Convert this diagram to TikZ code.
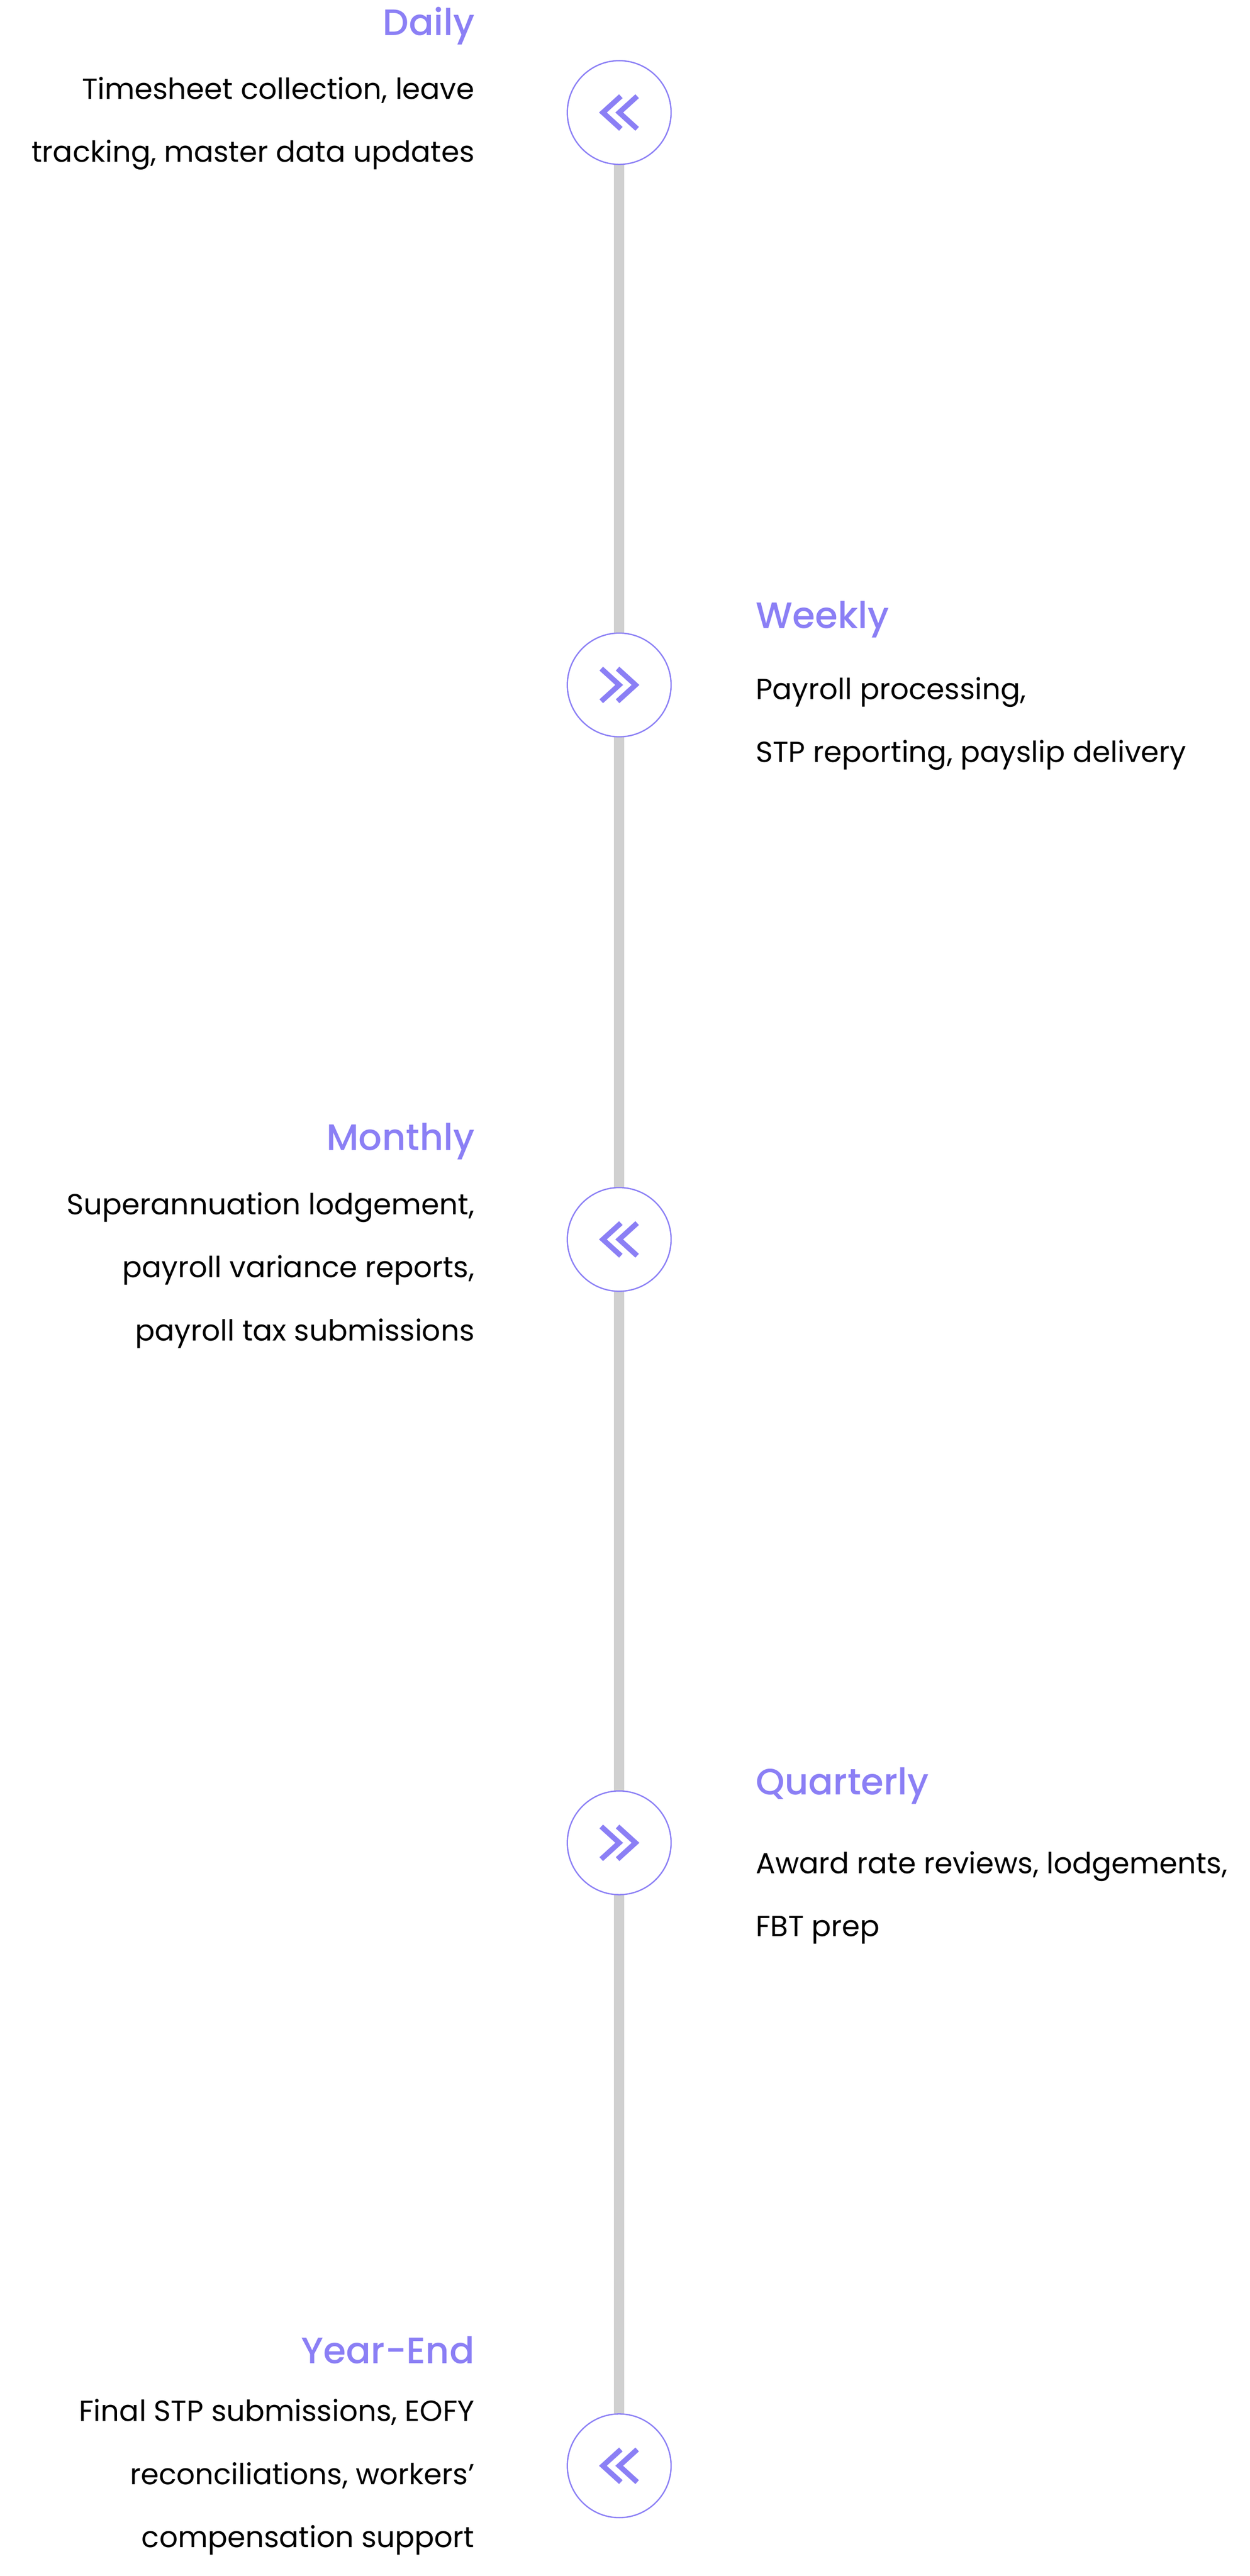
\documentclass[tikz,border=0pt]{standalone}
\usepackage{fontspec}
\setmainfont{Poppins}
\newfontfamily\headf{Poppins Medium}
\definecolor{pur}{HTML}{8B7FF5}
\definecolor{lgray}{HTML}{D0D0D0}
\begin{document}
\begin{tikzpicture}[x=1pt,y=-1pt,
  dot/.style={circle,draw=pur,line width=0.8pt,fill=white,minimum size=63.6pt,inner sep=0},
  head/.style={text=pur,font=\headf\fontsize{22.5}{25}\selectfont,inner sep=0},
  bodyl/.style={font=\fontsize{17.8}{38.7}\selectfont,align=right,anchor=north east,inner sep=0},
  bodyr/.style={font=\fontsize{17.8}{38.7}\selectfont,align=left,anchor=north west,inner sep=0},
  chev/.style={draw=pur,line width=3.2pt,miter limit=10}]
\useasboundingbox (0,0) rectangle (766,1579.6);
\coordinate (t) at (379.5,69);
\coordinate (b) at (379.5,1512);
\draw[lgray,line width=6.2pt] (t) -- (b);
\foreach \n/\y/\d in {c1/69/-1,c2/420/1,c3/760/-1,c4/1130/1,c5/1512/-1}{
  \node[dot] (\n) at (379.5,\y) {};
  \draw[chev] ([shift={(\d*-1.5+\d*-9.5,-10)}]\n.center) -- ([shift={(\d*-1.5+\d*1.5,0)}]\n.center) -- ([shift={(\d*-1.5+\d*-9.5,10)}]\n.center);
  \draw[chev] ([shift={(\d*8.5+\d*-9.5,-10)}]\n.center) -- ([shift={(\d*8.5+\d*1.5,0)}]\n.center) -- ([shift={(\d*8.5+\d*-9.5,10)}]\n.center);
}
\node[head,anchor=east] (h1) at (291,16) {Daily};
\node[bodyl] (b1) at (291,47) {Timesheet collection, leave\\tracking, master data updates};
\node[head,anchor=west] (h2) at (463,380) {Weekly};
\node[bodyr] (b2) at (463,415) {Payroll processing,\\STP reporting, payslip delivery};
\node[head,anchor=east] (h3) at (291,700) {Monthly};
\node[bodyl] (b3) at (291,731) {Superannuation lodgement,\\payroll variance reports,\\payroll tax submissions};
\node[head,anchor=west] (h4) at (463,1095) {Quarterly};
\node[bodyr] (b4) at (463,1135) {Award rate reviews, lodgements,\\FBT prep};
\node[head,anchor=east] (h5) at (291,1441) {Year-End};
\node[bodyl] (b5) at (291,1471) {Final STP submissions, EOFY\\reconciliations, workers’\\compensation support};
\end{tikzpicture}
\end{document}
